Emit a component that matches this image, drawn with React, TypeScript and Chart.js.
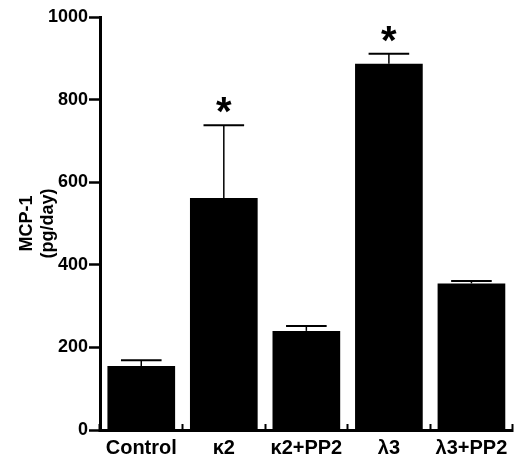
import { useEffect, useRef } from 'react'
import { Chart, registerables } from 'chart.js'

Chart.register(...registerables)

const categories = ['Control', 'κ2', 'κ2+PP2', 'λ3', 'λ3+PP2']
const mcp1 = [155, 562, 240, 887, 355]
const sem = [14, 176, 12, 24, 6]
const starred = [false, true, false, true, false]
const yTicks = [0, 200, 400, 600, 800, 1000]

const FONT = '"Liberation Sans", Arial, Helvetica, sans-serif'

// upper-only SEM whiskers plus significance stars
const errorBars = {
  id: 'errorBars',
  afterDatasetsDraw(chart: any) {
    const { ctx } = chart
    const y = chart.scales.y
    const meta = chart.getDatasetMeta(0)
    ctx.save()
    ctx.strokeStyle = '#000'
    ctx.fillStyle = '#000'
    meta.data.forEach((bar: any, i: number) => {
      const top = y.getPixelForValue(mcp1[i])
      const hi = y.getPixelForValue(mcp1[i] + sem[i])
      const half = bar.width * 0.3
      ctx.lineWidth = 1.5
      ctx.beginPath()
      ctx.moveTo(bar.x, top)
      ctx.lineTo(bar.x, hi)
      ctx.stroke()
      ctx.lineWidth = 2
      ctx.beginPath()
      ctx.moveTo(bar.x - half, hi)
      ctx.lineTo(bar.x + half, hi)
      ctx.stroke()
      if (starred[i]) {
        ctx.font = `bold 40px ${FONT}`
        ctx.textAlign = 'center'
        ctx.textBaseline = 'alphabetic'
        ctx.fillText('*', bar.x, hi)
      }
    })
    ctx.restore()
  },
}

export default function App() {
  const canvasRef = useRef<HTMLCanvasElement>(null)
  const chartRef = useRef<Chart | null>(null)

  useEffect(() => {
    document.body.style.margin = '0'
    const canvas = canvasRef.current
    if (!canvas) return

    if (chartRef.current) chartRef.current.destroy()

    chartRef.current = new Chart(canvas, {
      type: 'bar',
      data: {
        labels: categories,
        datasets: [
          {
            data: mcp1,
            backgroundColor: '#000',
            borderWidth: 0,
            barPercentage: 0.82,
            categoryPercentage: 1,
          },
        ],
      },
      options: {
        animation: false,
        responsive: true,
        maintainAspectRatio: false,
        layout: { padding: { top: 17, right: 7, left: 0, bottom: 0 } },
        plugins: {
          legend: { display: false },
          tooltip: { enabled: false },
        },
        scales: {
          x: {
            grid: {
              display: true,
              drawOnChartArea: false,
              tickLength: -6,
              tickWidth: 2,
              tickColor: '#000',
            },
            border: { display: true, color: '#000', width: 3 },
            ticks: {
              color: '#000',
              padding: 12,
              font: { family: FONT, size: 20, weight: 'bold' },
            },
            afterFit: (s: any) => {
              s.height = 30
            },
          },
          y: {
            min: 0,
            max: 1000,
            afterBuildTicks: (s: any) => {
              s.ticks = yTicks.map((v) => ({ value: v }))
            },
            grid: {
              drawOnChartArea: false,
              tickLength: 11,
              tickWidth: 2.5,
              tickColor: '#000',
            },
            border: { display: true, color: '#000', width: 3 },
            ticks: {
              color: '#000',
              padding: 1,
              font: { family: FONT, size: 18, weight: 'bold' },
              callback: (v: any) => String(v),
            },
            title: {
              display: true,
              text: ['MCP-1', '(pg/day)'],
              color: '#000',
              padding: { top: 16, bottom: 0 },
              font: { family: FONT, size: 18, weight: 'bold' },
            },
            afterFit: (s: any) => {
              s.width = 100
            },
          },
        },
      },
      plugins: [errorBars],
    })

    return () => {
      if (chartRef.current) {
        chartRef.current.destroy()
        chartRef.current = null
      }
    }
  }, [])

  return (
    <div style={{ width: 520, height: 460, position: 'relative' }}>
      <canvas ref={canvasRef} />
    </div>
  )
}
